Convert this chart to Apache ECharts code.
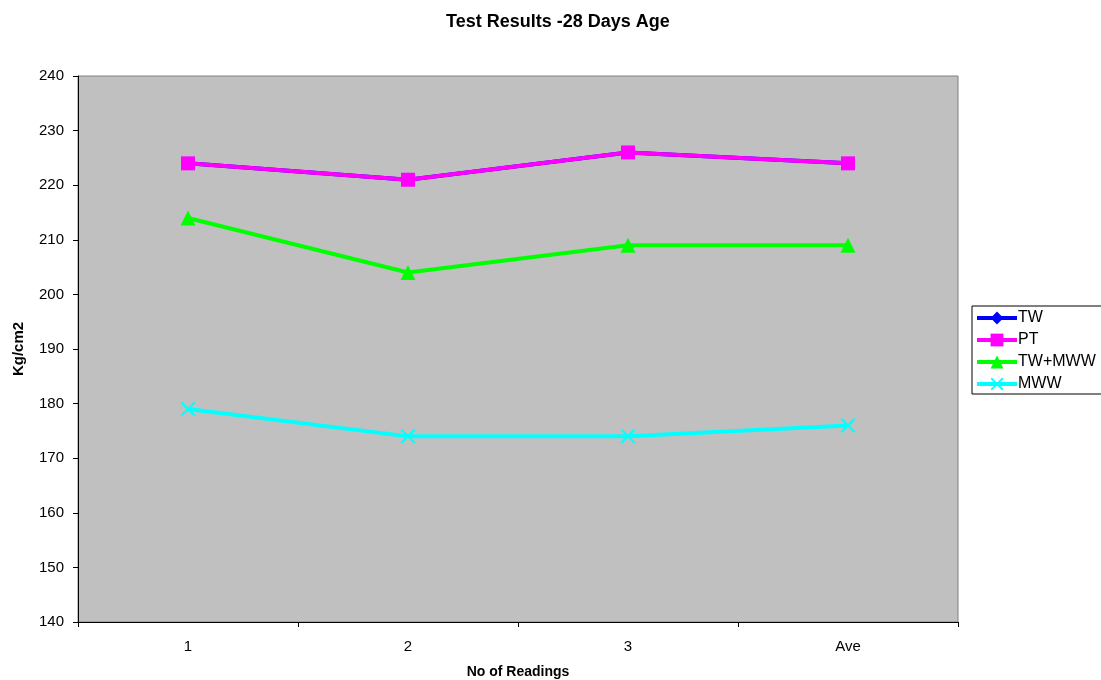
<!DOCTYPE html>
<html>
<head>
<meta charset="utf-8">
<script src="https://cdn.jsdelivr.net/npm/echarts@6/dist/echarts.min.js"></script>
<style>
  html, body { margin: 0; padding: 0; background: #ffffff; }
  #chart { width: 1101px; height: 680px; }
</style>
</head>
<body>
<div id="chart"></div>
<script>
// Compressive strength readings at 28 days
const categories = ['1', '2', '3', 'Ave'];
const twValues = [224, 221, 226, 224];
const ptValues = [224, 221, 226, 224];
const twMwwValues = [214, 204, 209, 209];
const mwwValues = [179, 174, 174, 176];
const yTicks = { min: 140, max: 240, interval: 10 };

// Thin "x" marker outline
const crossPath = 'path://M0,1L1,0L5,4L9,0L10,1L6,5L10,9L9,10L5,6L1,10L0,9L4,5Z';

const FONT = 'Liberation Sans, Arial, sans-serif';

const chart = echarts.init(document.getElementById('chart'));

function lineSeries(name, data, color, symbol, size) {
  return {
    name: name,
    type: 'line',
    data: data,
    symbol: symbol,
    symbolSize: size,
    lineStyle: { color: color, width: 4 },
    itemStyle: { color: color, borderWidth: 0 },
    emphasis: { disabled: true },
    animation: false
  };
}

chart.setOption({
  backgroundColor: '#ffffff',
  title: {
    text: 'Test Results -28 Days Age',
    left: 553,
    top: 8,
    textAlign: 'center',
    textStyle: { fontFamily: FONT, fontSize: 18, fontWeight: 'bold', color: '#000' }
  },
  grid: {
    left: 78, right: 143, top: 76, bottom: 58,
    outerBoundsMode: 'none',
    containLabel: false,
    show: true,
    backgroundColor: '#c0c0c0',
    borderColor: '#808080',
    borderWidth: 1
  },
  legend: {
    orient: 'vertical',
    left: 972,
    top: 306,
    padding: [4, 40, 2, 3],
    itemGap: 6,
    itemWidth: 40,
    itemHeight: 16,
    backgroundColor: '#ffffff',
    borderColor: '#000000',
    borderWidth: 1,
    borderRadius: 0,
    lineStyle: { width: 4 },
    textStyle: { fontFamily: FONT, fontSize: 16, color: '#000', padding: [0, 0, 0, -4] },
    data: ['TW', 'PT', 'TW+MWW', 'MWW']
  },
  xAxis: {
    type: 'category',
    data: categories,
    boundaryGap: true,
    name: 'No of Readings',
    nameLocation: 'middle',
    nameGap: 43,
    nameTextStyle: { fontFamily: FONT, fontSize: 14, fontWeight: 'bold', color: '#000' },
    axisLine: { lineStyle: { color: '#000', width: 1 } },
    axisTick: { show: true, alignWithLabel: false, length: 5, lineStyle: { color: '#000' } },
    axisLabel: { fontFamily: FONT, fontSize: 15, color: '#000', margin: 17 },
    splitLine: { show: false }
  },
  yAxis: {
    type: 'value',
    min: yTicks.min,
    max: yTicks.max,
    interval: yTicks.interval,
    name: 'Kg/cm2',
    nameLocation: 'middle',
    nameGap: 52,
    nameRotate: 90,
    nameTextStyle: { fontFamily: FONT, fontSize: 15, fontWeight: 'bold', color: '#000' },
    axisLine: { show: true, lineStyle: { color: '#000', width: 1 } },
    axisTick: { show: true, length: 5, lineStyle: { color: '#000' } },
    axisLabel: { fontFamily: FONT, fontSize: 15, color: '#000', margin: 14 },
    splitLine: { show: false }
  },
  series: [
    lineSeries('TW', twValues, '#0000ff', 'diamond', 13),
    lineSeries('PT', ptValues, '#ff00ff', 'rect', 14),
    lineSeries('TW+MWW', twMwwValues, '#00ff00', 'triangle', 15),
    lineSeries('MWW', mwwValues, '#00ffff', crossPath, 15)
  ]
});
</script>
</body>
</html>
